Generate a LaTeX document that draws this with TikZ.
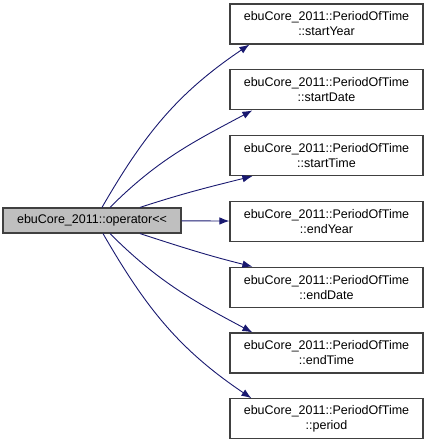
\documentclass[tikz,border=0pt]{standalone}
\usepackage{fontspec}
\setmainfont{Liberation Sans}
\usetikzlibrary{arrows.meta,positioning,calc}
\definecolor{edgeblue}{HTML}{191970}
\definecolor{boxgray}{HTML}{BFBFBF}
\definecolor{boxline}{HTML}{404040}
\tikzset{
  fn/.style={draw=boxline,line width=1.2pt,align=center,inner sep=0pt,
    minimum width=193pt,minimum height=40pt,fill=white,
    font=\fontsize{12.5}{15}\selectfont},
  caller/.style={fn,fill=boxgray,minimum width=178pt,minimum height=25pt},
  call/.style={-{Latex[length=10pt,width=7.5pt]},line width=0.9pt,edgeblue}
}

\begin{document}
\begin{tikzpicture}[x=1pt,y=1pt]
  \useasboundingbox (0,0) rectangle (427,443);
  \node[caller] (op) at (92,222.5) {ebuCore\_2011::operator{<}{<}};
  \node[fn] (startyear) at (326.5,419) {ebuCore\_2011::PeriodOfTime\\::startYear};
  \node[fn] (startdate) at (326.5,353.2) {ebuCore\_2011::PeriodOfTime\\::startDate};
  \node[fn] (starttime) at (326.5,287.4) {ebuCore\_2011::PeriodOfTime\\::startTime};
  \node[fn] (endyear) at (326.5,221.6) {ebuCore\_2011::PeriodOfTime\\::endYear};
  \node[fn] (enddate) at (326.5,155.8) {ebuCore\_2011::PeriodOfTime\\::endDate};
  \node[fn] (endtime) at (326.5,90) {ebuCore\_2011::PeriodOfTime\\::endTime};
  \node[fn] (period) at (326.5,24.2) {ebuCore\_2011::PeriodOfTime\\::period};
  \draw[call] ([xshift=10pt]op.north) to[out=60,in=214] ([xshift=20pt]startyear.south west);
  \draw[call] ([xshift=18pt]op.north) to[out=45,in=208] ([xshift=23pt]startdate.south west);
  \draw[call] ([xshift=48pt]op.north) to[out=18,in=194] ([xshift=23pt]starttime.south west);
  \draw[call] (op) -- (endyear);
  \draw[call] ([xshift=48pt]op.south) to[out=-18,in=166] ([xshift=23pt]enddate.north west);
  \draw[call] ([xshift=18pt]op.south) to[out=-45,in=152] ([xshift=23pt]endtime.north west);
  \draw[call] ([xshift=11pt]op.south) to[out=-60,in=146] ([xshift=22pt]period.north west);
\end{tikzpicture}
\end{document}
